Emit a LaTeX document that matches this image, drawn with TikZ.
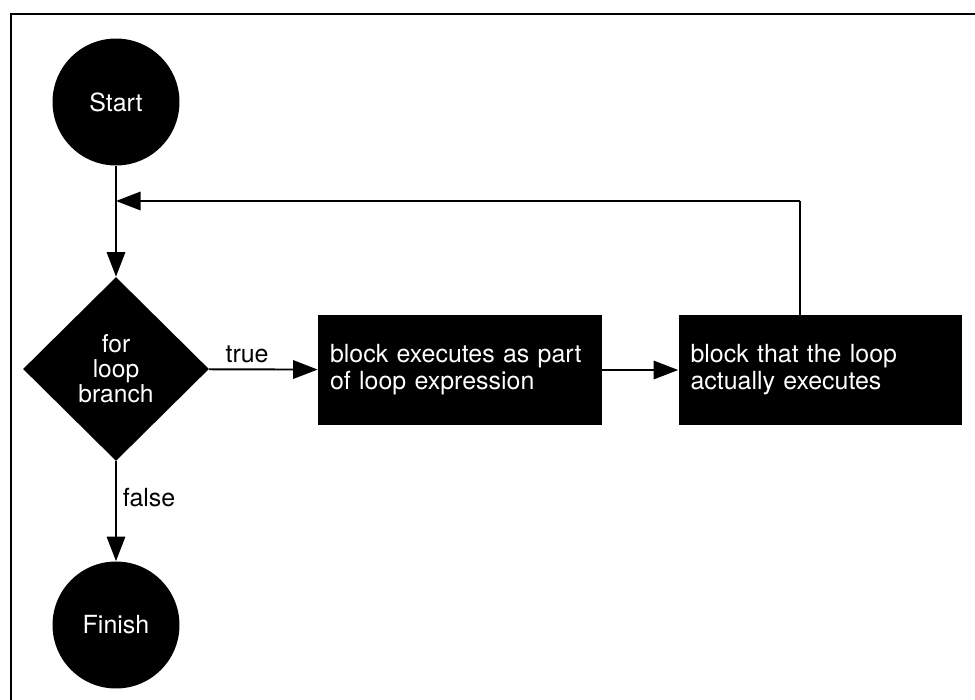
\documentclass[tikz,border=0pt]{standalone}
\usepackage{fontspec}
\setmainfont{TeX Gyre Heros}
\usepackage{tikz}
\usetikzlibrary{arrows.meta}
\usetikzlibrary{shapes.geometric}

\tikzset{
  terminal/.style={circle, fill=black, text=white, minimum size=2.54cm, inner sep=0pt},
  decision/.style={diamond, fill=black, text=white, minimum width=3.72cm, minimum height=3.68cm, inner sep=0pt,
    align=center, font=\fontsize{14}{14.3}\selectfont},
  block/.style={rectangle, fill=black, text=white, minimum width=5.68cm, minimum height=2.2cm,
    text width=5.2cm, inner xsep=0.24cm, align=left},
  arr/.style={line width=1.1pt, -{Triangle[length=14pt,width=10.5pt]}},
  wire/.style={line width=1.1pt},
}

\begin{document}
\begin{tikzpicture}[x=0.02cm, y=-0.02cm, font=\fontsize{14.2}{15.5}\selectfont]
    \useasboundingbox (0,0) rectangle (975,700);
    % cadre
    \draw[line width=1.7pt] (11,705) -- (11,14) -- (980,14);
    % les noeuds
    \node[terminal] (start) at (116,102) {Start};
    \node[decision] (branch) at (116,369) {for\\loop\\branch};
    \node[block] (expr) at (460,370) {block executes as part\\of loop expression};
    \node[block] (body) at (820.5,370) {block that the loop\\actually executes};
    \node[terminal] (finish) at (116,625) {Finish};
    \coordinate (back) at (800,201);
    % les flèches
    \draw[arr] (start) -- (branch);
    \draw[arr] (branch) -- (expr) node[pos=0.35, above] {true};
    \draw[arr] (expr) -- (body);
    \draw[arr] (branch) -- (finish) node[pos=0.36, right] {false};
    %retour de boucle
    \draw[wire] (body.north -| back) -- (back);
    \draw[arr] (back) -- (back -| start);
\end{tikzpicture}
\end{document}
